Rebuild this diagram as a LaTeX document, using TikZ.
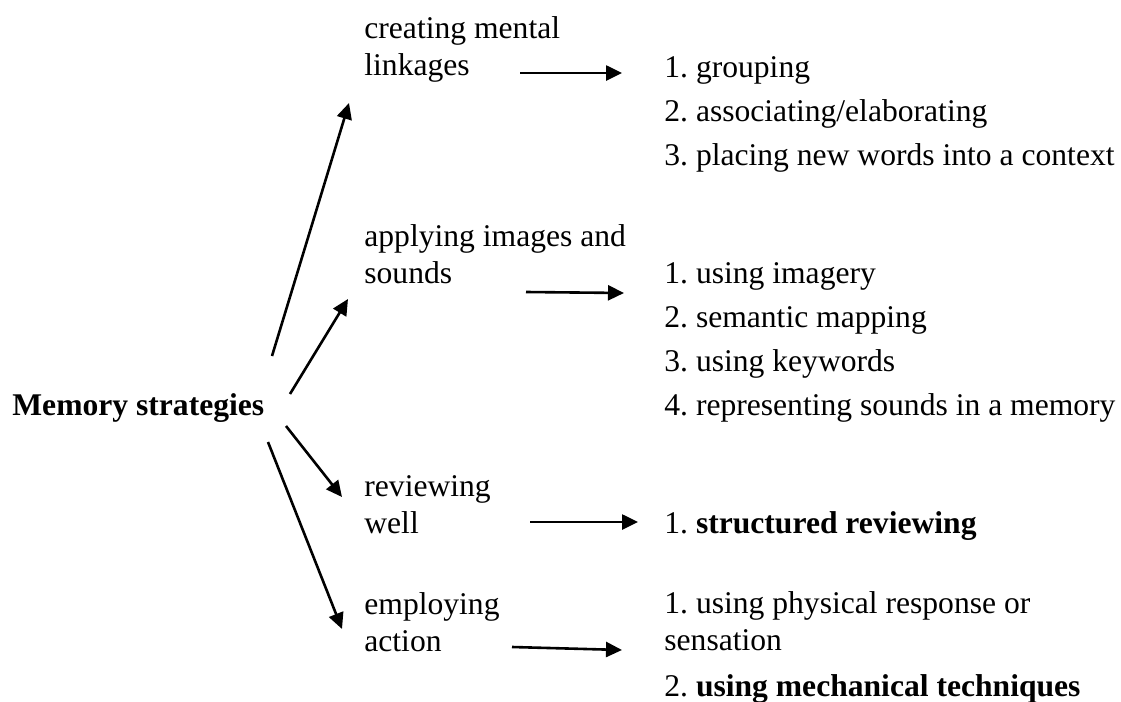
\documentclass[tikz,border=0pt]{standalone}
\usepackage{fontspec}
\setmainfont{Liberation Serif}
\usetikzlibrary{arrows.meta}
\tikzset{
  lbl/.style={anchor=base west, align=left, inner sep=0pt,
    font=\fontsize{15.8}{18.5}\selectfont\frenchspacing},
  arr/.style={-{Triangle[length=8pt,width=7.5pt]}, line width=1.3pt},
}
\begin{document}
\begin{tikzpicture}[x=0.5pt,y=-0.5pt]
  \useasboundingbox (0,0) rectangle (1121,702);
  % root and the four groups (placed by the baseline of their last line)
  \node[lbl] (ms) at (12,415) {\textbf{Memory strategies}};
  \node[lbl] (cml) at (364,75) {creating mental\\linkages};
  \node[lbl] (ais) at (364,283) {applying images and\\sounds};
  \node[lbl] (rw) at (364,533) {reviewing\\well};
  \node[lbl] (ea) at (364,651) {employing\\action};
  % lists
  \node[lbl] (cml list) at (664,165) {1. grouping\\[3.5pt]
    2. associating/elaborating\\[3.5pt]
    3. placing new words into a context};
  \node[lbl] (ais list) at (664,415) {1. using imagery\\[3.5pt]
    2. semantic mapping\\[3.5pt]
    3. using keywords\\[3.5pt]
    4. representing sounds in a memory};
  \node[lbl] (rw list) at (664,533) {1. \textbf{structured reviewing}};
  \node[lbl] (ea list) at (664,696) {1. using physical response or\\
    sensation\\[4.5pt]
    2. \textbf{using mechanical techniques}};
  % arrow ends
  \coordinate (ms up) at (272,356);
  \coordinate (ms mid up) at (290,394);
  \coordinate (ms mid down) at (286,426);
  \coordinate (ms down) at (268,442);
  \coordinate (cml in) at (349,103);
  \coordinate (ais in) at (348,299);
  \coordinate (rw in) at (342,497);
  \coordinate (ea in) at (342,629);
  \coordinate (cml out) at (520,73);
  \coordinate (ais out) at (526,292);
  \coordinate (rw out) at (530,522);
  \coordinate (ea out) at (512,647);
  \coordinate (cml to) at (622,73);
  \coordinate (ais to) at (624,293);
  \coordinate (rw to) at (638,522);
  \coordinate (ea to) at (622,650);
  \draw[arr] (ms up) -- (cml in);
  \draw[arr] (ms mid up) -- (ais in);
  \draw[arr] (ms mid down) -- (rw in);
  \draw[arr] (ms down) -- (ea in);
  \draw[arr] (cml out) -- (cml to);
  \draw[arr] (ais out) -- (ais to);
  \draw[arr] (rw out) -- (rw to);
  \draw[arr] (ea out) -- (ea to);
\end{tikzpicture}
\end{document}
